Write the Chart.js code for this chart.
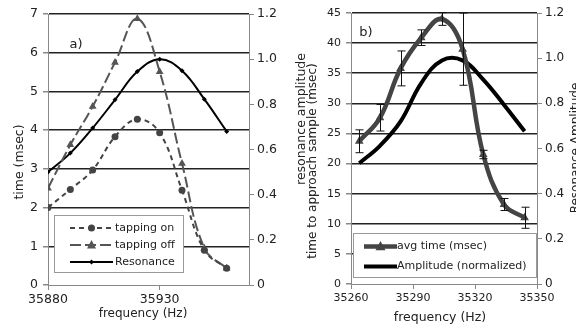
<!DOCTYPE html>
<html>
<head>
<meta charset="utf-8">
<script src="https://cdn.jsdelivr.net/npm/chart.js@4/dist/chart.umd.min.js"></script>
<style>
  html, body { margin: 0; padding: 0; background: #fff; overflow: hidden; width: 576px; height: 327px; }
  canvas { position: absolute; top: 0; }
  #chartA { left: 0; }
  #chartB { left: 300px; }
</style>
</head>
<body>
<canvas id="chartA" width="320" height="327"></canvas>
<canvas id="chartB" width="300" height="327"></canvas>
<script>
// panel a)
const leftFreq = [35880, 35890, 35900, 35910, 35920, 35930, 35940, 35950, 35960];
const tappingOn = [2.0, 2.47, 2.97, 3.83, 4.28, 3.93, 2.45, 0.9, 0.43];
const tappingOff = [2.5, 3.62, 4.61, 5.75, 6.88, 5.51, 3.14, 0.95, 0.43];
const resonance = [0.5, 0.584, 0.695, 0.82, 0.945, 1.0, 0.949, 0.823, 0.68];
const leftXTicks = [35880, 35930];

// panel b)
const rightFreq = [35264, 35274, 35284, 35294, 35304, 35314, 35324, 35334, 35344];
const avgTime = [23.7, 27.6, 35.8, 40.9, 44.0, 39.0, 21.5, 13.2, 11.0];
const avgErr = [1.9, 2.2, 2.9, 1.3, 1.05, 6.0, 0.7, 1.0, 1.75];
const amplitude = [0.535, 0.612, 0.72, 0.89, 0.99, 0.99, 0.905, 0.794, 0.676];
const rightXTicks = [35260, 35290, 35320, 35350];

Chart.defaults.font.family = "'DejaVu Sans', sans-serif";
Chart.defaults.color = '#222';

const FONT = "'DejaVu Sans', sans-serif";
const pts = (xs, ys) => xs.map((x, i) => ({ x: x, y: ys[i] }));
const plain = v => String(v);

function marker(ctx, style, x, y, r, color) {
  ctx.save();
  ctx.fillStyle = color;
  ctx.setLineDash([]);
  ctx.beginPath();
  if (style === 'circle') {
    ctx.arc(x, y, r, 0, Math.PI * 2);
  } else if (style === 'triangle') {
    ctx.moveTo(x, y - r * 1.1);
    ctx.lineTo(x + r, y + r * 0.75);
    ctx.lineTo(x - r, y + r * 0.75);
    ctx.closePath();
  } else if (style === 'rectRot') {
    ctx.moveTo(x, y - r); ctx.lineTo(x + r, y); ctx.lineTo(x, y + r); ctx.lineTo(x - r, y);
    ctx.closePath();
  }
  ctx.fill();
  ctx.restore();
}

// legend box + labels + titles drawn on top of the chart
function overlay(cfg) {
  return {
    id: 'overlay',
    afterDraw(chart) {
      const ctx = chart.ctx;
      const b = cfg.legend.box;
      ctx.save();
      ctx.fillStyle = '#fff';
      ctx.fillRect(b.x, b.y, b.w, b.h);
      ctx.strokeStyle = '#999';
      ctx.lineWidth = 1;
      ctx.strokeRect(b.x + 0.5, b.y + 0.5, b.w, b.h);
      cfg.legend.rows.forEach(r => {
        ctx.save();
        ctx.strokeStyle = r.color;
        ctx.lineWidth = r.width;
        ctx.setLineDash(r.dash || []);
        ctx.beginPath();
        ctx.moveTo(cfg.legend.x0, r.y);
        ctx.lineTo(cfg.legend.x1, r.y);
        ctx.stroke();
        ctx.restore();
        if (r.marker) marker(ctx, r.marker, (cfg.legend.x0 + cfg.legend.x1) / 2, r.y, r.r, r.color);
        ctx.fillStyle = '#222';
        ctx.font = cfg.legend.font + 'px ' + FONT;
        ctx.textBaseline = 'middle';
        ctx.textAlign = 'left';
        ctx.fillText(r.text, cfg.legend.tx, r.y);
      });
      cfg.texts.forEach(t => {
        ctx.save();
        ctx.fillStyle = '#222';
        ctx.font = t.size + 'px ' + FONT;
        ctx.textAlign = 'center';
        ctx.textBaseline = 'middle';
        ctx.translate(t.x, t.y);
        if (t.rot) ctx.rotate(-Math.PI / 2);
        ctx.fillText(t.text, 0, 0);
        ctx.restore();
      });
      ctx.restore();
    }
  };
}

const gridColor = c => (c.tick && c.tick.value === 0) ? 'rgba(0,0,0,0)' : '#222';

new Chart(document.getElementById('chartA'), {
  type: 'line',
  data: {
    datasets: [
      {
        label: 'tapping on', data: pts(leftFreq, tappingOn), yAxisID: 'y',
        borderColor: '#444', backgroundColor: '#444', borderWidth: 2, borderDash: [5, 4],
        pointStyle: 'circle', pointRadius: 3.5, pointBorderWidth: 0, tension: 0.4
      },
      {
        label: 'tapping off', data: pts(leftFreq, tappingOff), yAxisID: 'y',
        borderColor: '#555', backgroundColor: '#555', borderWidth: 2, borderDash: [11, 4],
        pointStyle: 'triangle', pointRadius: 4.5, pointBorderWidth: 0, tension: 0.4
      },
      {
        label: 'Resonance', data: pts(leftFreq, resonance), yAxisID: 'y1',
        borderColor: '#000', backgroundColor: '#000', borderWidth: 2,
        pointStyle: 'rectRot', pointRadius: 2.5, pointBorderWidth: 0, tension: 0.4
      }
    ]
  },
  options: {
    responsive: false,
    animation: false,
    layout: { padding: { top: 14, left: 0, right: 0, bottom: 0 } },
    plugins: { legend: { display: false }, tooltip: { enabled: false } },
    scales: {
      x: {
        type: 'linear', min: 35880, max: 35970,
        afterBuildTicks: s => { s.ticks = leftXTicks.map(v => ({ value: v })); },
        afterFit: s => { s.height = 42; },
        grid: { drawOnChartArea: false, tickLength: 5, tickColor: '#888' },
        border: { color: '#888' },
        ticks: { font: { size: 12.5 }, padding: 2, maxRotation: 0, callback: plain }
      },
      y: {
        min: 0, max: 7,
        afterFit: s => { s.width = 48; },
        grid: { color: gridColor, lineWidth: 1.5, tickLength: 5, tickColor: '#888' },
        border: { color: '#888' },
        ticks: { stepSize: 1, font: { size: 12.5 }, padding: 5 }
      },
      y1: {
        position: 'right', min: 0, max: 1.2,
        afterFit: s => { s.width = 71; },
        grid: { drawOnChartArea: false, tickLength: 5, tickColor: '#888' },
        border: { color: '#888' },
        ticks: { stepSize: 0.2, font: { size: 12.5 }, padding: 3 }
      }
    }
  },
  plugins: [overlay({
    legend: {
      box: { x: 54, y: 215, w: 129, h: 57 }, x0: 70, x1: 113, tx: 115, font: 11,
      rows: [
        { text: 'tapping on', y: 228, color: '#444', width: 2, dash: [5, 4], marker: 'circle', r: 3.5 },
        { text: 'tapping off', y: 245, color: '#555', width: 2, dash: [11, 4], marker: 'triangle', r: 4.5 },
        { text: 'Resonance', y: 262, color: '#000', width: 2, marker: 'rectRot', r: 2.5 }
      ]
    },
    texts: [
      { text: 'a)', x: 76, y: 45, size: 13 },
      { text: 'time (msec)', x: 20, y: 162, size: 12.5, rot: true },
      { text: 'frequency (Hz)', x: 143, y: 314, size: 12 },
      { text: 'resonance amplitude', x: 302, y: 119, size: 12.5, rot: true }
    ]
  })]
});

const errorBars = {
  id: 'errorBars',
  afterDatasetsDraw(chart) {
    const { ctx, scales: { x, y } } = chart;
    ctx.save();
    ctx.strokeStyle = '#111';
    ctx.lineWidth = 1;
    rightFreq.forEach((f, i) => {
      const px = Math.round(x.getPixelForValue(f)) + 0.5;
      const top = y.getPixelForValue(avgTime[i] + avgErr[i]);
      const bot = y.getPixelForValue(avgTime[i] - avgErr[i]);
      ctx.beginPath();
      ctx.moveTo(px, top); ctx.lineTo(px, bot);
      ctx.moveTo(px - 4, top); ctx.lineTo(px + 4, top);
      ctx.moveTo(px - 4, bot); ctx.lineTo(px + 4, bot);
      ctx.stroke();
    });
    ctx.restore();
  }
};

new Chart(document.getElementById('chartB'), {
  type: 'line',
  data: {
    datasets: [
      {
        label: 'avg time (msec)', data: pts(rightFreq, avgTime), yAxisID: 'y',
        borderColor: '#444', backgroundColor: '#444', borderWidth: 4.5,
        pointStyle: 'triangle', pointRadius: 5, pointBorderWidth: 0, tension: 0.4
      },
      {
        label: 'Amplitude (normalized)', data: pts(rightFreq, amplitude), yAxisID: 'y1',
        borderColor: '#000', borderWidth: 4, pointRadius: 0, tension: 0.4
      }
    ]
  },
  options: {
    responsive: false,
    animation: false,
    layout: { padding: { top: 13, left: 0, right: 0, bottom: 0 } },
    plugins: { legend: { display: false }, tooltip: { enabled: false } },
    scales: {
      x: {
        type: 'linear', min: 35260, max: 35350,
        afterBuildTicks: s => { s.ticks = rightXTicks.map(v => ({ value: v })); },
        afterFit: s => { s.height = 43; },
        grid: { drawOnChartArea: false, tickLength: 5, tickColor: '#888' },
        border: { color: '#888' },
        ticks: { font: { size: 11 }, padding: 3, maxRotation: 0, callback: plain }
      },
      y: {
        min: 0, max: 45,
        afterFit: s => { s.width = 51; },
        grid: { color: gridColor, lineWidth: 1.5, tickLength: 5, tickColor: '#888' },
        border: { color: '#888' },
        ticks: { stepSize: 5, font: { size: 11 }, padding: 5 }
      },
      y1: {
        position: 'right', min: 0, max: 1.2,
        afterFit: s => { s.width = 63; },
        grid: { drawOnChartArea: false, tickLength: 5, tickColor: '#888' },
        border: { color: '#888' },
        ticks: { stepSize: 0.2, font: { size: 12 }, padding: 3 }
      }
    }
  },
  plugins: [errorBars, overlay({
    legend: {
      box: { x: 53, y: 233, w: 183, h: 44 }, x0: 64, x1: 97, tx: 97, font: 11,
      rows: [
        { text: 'avg time (msec)', y: 246.5, color: '#444', width: 4.5, marker: 'triangle', r: 5 },
        { text: 'Amplitude (normalized)', y: 266.5, color: '#000', width: 4 }
      ]
    },
    texts: [
      { text: 'b)', x: 66, y: 33, size: 13 },
      { text: 'time to approach sample (msec)', x: 13, y: 161, size: 12, rot: true },
      { text: 'frequency (Hz)', x: 140, y: 318, size: 12.5 },
      { text: 'Resonance Amplitude', x: 276, y: 148, size: 12, rot: true }
    ]
  })]
});
</script>
</body>
</html>
